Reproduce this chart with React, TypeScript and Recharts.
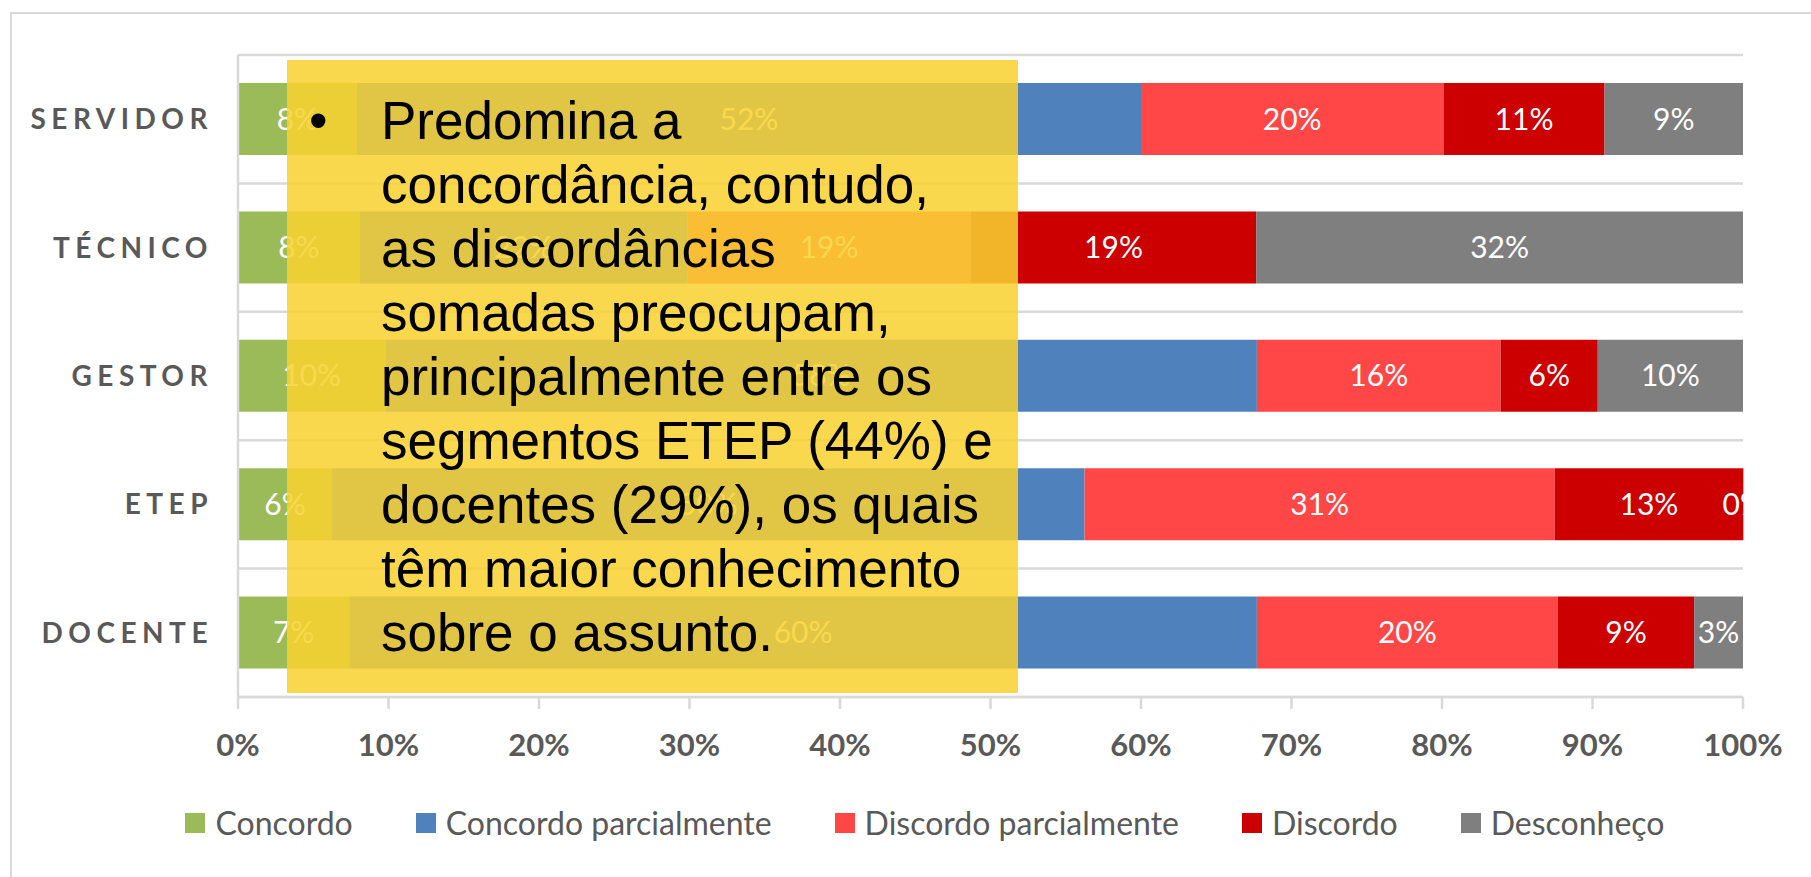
import { BarChart, Bar, XAxis, YAxis, CartesianGrid, LabelList } from 'recharts';

// categories (top to bottom)
const categories = ['SERVIDOR', 'TÉCNICO', 'GESTOR', 'ETEP', 'DOCENTE'];

// share of answers per category, in %
const concordo = [7.9, 8.1, 9.8, 6.25, 7.4];
const concordoParcialmente = [52.1, 21.75, 57.9, 50, 60.3];
const discordoParcialmente = [20.1, 18.85, 16.2, 31.25, 20.0];
const discordo = [10.7, 18.95, 6.45, 12.5, 9.05];
const desconheco = [9.2, 32.35, 9.65, 0, 3.25];

const xTicks = [0, 10, 20, 30, 40, 50, 60, 70, 80, 90, 100];

const series = [
  { key: 'concordo', name: 'Concordo', color: '#9BBB59', values: concordo },
  { key: 'concordoParcialmente', name: 'Concordo parcialmente', color: '#4F81BD', values: concordoParcialmente },
  { key: 'discordoParcialmente', name: 'Discordo parcialmente', color: '#FF4747', values: discordoParcialmente },
  { key: 'discordo', name: 'Discordo', color: '#CC0000', values: discordo },
  { key: 'desconheco', name: 'Desconheço', color: '#7F7F7F', values: desconheco },
];

const noteLines = [
  'Predomina a',
  'concordância, contudo,',
  'as discordâncias',
  'somadas preocupam,',
  'principalmente entre os',
  'segmentos ETEP (44%) e',
  'docentes (29%), os quais',
  'têm maior conhecimento',
  'sobre o assunto.',
];

const chartData = categories.map((name, i) => {
  const row: Record<string, string | number> = { name };
  series.forEach(s => {
    row[s.key] = s.values[i];
  });
  return row;
});

const FONT = 'Lato, sans-serif';
const GRID = '#D9D9D9';

function CategoryTick({ x, y, payload }: any) {
  return (
    <text
      x={x - 25}
      y={y}
      dy={10}
      textAnchor="end"
      fill="#595959"
      fontFamily={FONT}
      fontWeight={700}
      fontSize={28}
      letterSpacing={5.5}
    >
      {payload.value}
    </text>
  );
}

function PercentTick({ x, y, payload }: any) {
  return (
    <text x={x} y={y} dy={45} textAnchor="middle" fill="#595959" fontFamily={FONT} fontWeight={700} fontSize={31}>
      {payload.value}%
    </text>
  );
}

// grid lines sit between the categories, like the original
const bandLines = ({ offset }: any) =>
  categories.map((_, i) => offset.top + (i * offset.height) / categories.length).concat(offset.top + offset.height);

export default function App() {
  return (
    <div style={{ position: 'absolute', left: 0, top: 0, width: 1811, height: 877, overflow: 'hidden', background: '#fff' }}>
      <div
        style={{
          position: 'absolute',
          left: 10,
          top: 12,
          width: 1900,
          height: 1000,
          borderLeft: `2px solid ${GRID}`,
          borderTop: `2px solid ${GRID}`,
        }}
      />
      <div style={{ position: 'absolute', left: 0, top: 0 }}>
        <BarChart
          width={1811}
          height={877}
          data={chartData}
          layout="vertical"
          margin={{ top: 55, right: 68, bottom: 120, left: 0 }}
        >
          <CartesianGrid vertical={false} stroke={GRID} strokeWidth={2.5} horizontalCoordinatesGenerator={bandLines} />
          <XAxis
            type="number"
            domain={[0, 100]}
            ticks={xTicks}
            height={60}
            axisLine={{ stroke: GRID, strokeWidth: 2.5 }}
            tickLine={{ stroke: GRID, strokeWidth: 2.5 }}
            tickSize={12}
            tick={<PercentTick />}
          />
          <YAxis
            type="category"
            dataKey="name"
            width={238}
            interval={0}
            axisLine={{ stroke: GRID, strokeWidth: 2.5 }}
            tickLine={false}
            tickSize={0}
            tickMargin={0}
            tick={<CategoryTick />}
          />
          {series.map(s => (
            <Bar
              key={s.key}
              dataKey={s.key}
              name={s.name}
              stackId="a"
              fill={s.color}
              barSize={72}
              minPointSize={0.5}
              isAnimationActive={false}
            >
              <LabelList
                dataKey={s.key}
                position="center"
                fill="#FFFFFF"
                fontFamily={FONT}
                fontSize={30}
                formatter={(v: any) => `${Math.round(Number(v))}%`}
              />
            </Bar>
          ))}
        </BarChart>
      </div>

      {/* legend */}
      <div
        style={{
          position: 'absolute',
          left: 0,
          width: 1850,
          top: 803,
          height: 40,
          display: 'flex',
          justifyContent: 'center',
          alignItems: 'center',
          gap: 63,
          fontFamily: FONT,
          fontSize: 32,
          color: '#595959',
        }}
      >
        {series.map(s => (
          <div key={s.key} style={{ display: 'flex', alignItems: 'center' }}>
            <span style={{ width: 20, height: 20, background: s.color, marginRight: 10, display: 'inline-block' }} />
            <span style={{ lineHeight: '40px' }}>{s.name}</span>
          </div>
        ))}
      </div>

      {/* yellow note over the chart */}
      <div
        style={{
          position: 'absolute',
          left: 287,
          top: 60,
          width: 731,
          height: 633,
          background: 'rgba(248, 210, 48, 0.86)',
          fontFamily: '"Liberation Sans", Arial, sans-serif',
          fontSize: 53,
          lineHeight: '64px',
          color: '#000',
        }}
      >
        <div style={{ position: 'absolute', left: 22, top: 29 }}>•</div>
        <div style={{ position: 'absolute', left: 94, top: 29, whiteSpace: 'nowrap' }}>
          {noteLines.map(line => (
            <div key={line}>{line}</div>
          ))}
        </div>
      </div>
    </div>
  );
}
